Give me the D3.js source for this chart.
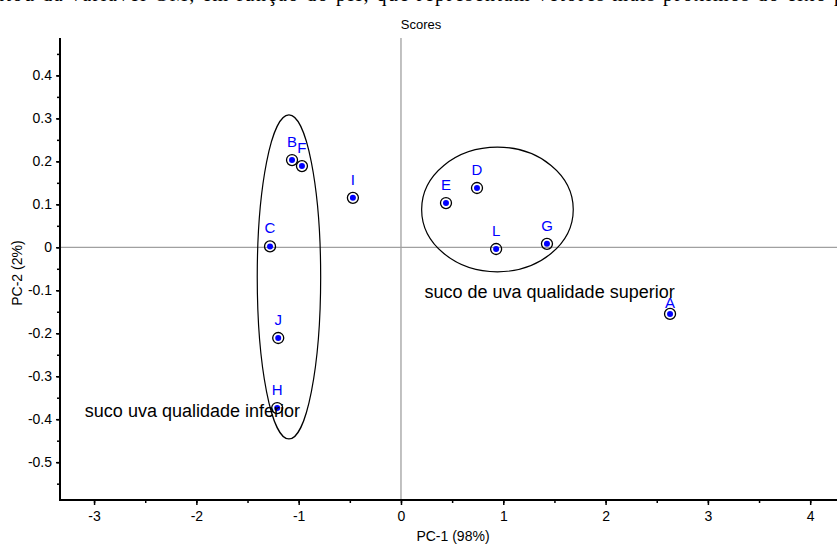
<!DOCTYPE html>
<html>
<head>
<meta charset="utf-8">
<script src="https://cdn.jsdelivr.net/npm/d3@7"></script>
<style>
  html, body { margin: 0; padding: 0; background: #fff; overflow: hidden; }
  svg { display: block; font-family: "Liberation Sans", Arial, sans-serif; }
</style>
</head>
<body>
<script>
// sample scores (PC-1, PC-2)
const labels = ['A', 'B', 'C', 'D', 'E', 'F', 'G', 'H', 'I', 'J', 'L'];
const pc1 = [2.63, -1.065, -1.28, 0.743, 0.44, -0.968, 1.427, -1.21, -0.47, -1.20, 0.93];
const pc2 = [-0.155, 0.203, 0.002, 0.138, 0.103, 0.189, 0.008, -0.374, 0.115, -0.211, -0.004];

// group ellipses: centre and radii in data units
const groupNames = ['inferior', 'superior'];
const groupCx = [-1.095, 0.943];
const groupCy = [-0.069, 0.088];
const groupRx = [0.31, 0.741];
const groupRy = [0.377, 0.145];

const notes = ['suco uva qualidade inferior', 'suco de uva qualidade superior'];
const noteX = [-3.09, 0.23];
const noteY = [-0.396, -0.118];

const xTicks = [-3, -2, -1, 0, 1, 2, 3, 4];
const yTicks = [0.4, 0.3, 0.2, 0.1, 0, -0.1, -0.2, -0.3, -0.4, -0.5];

const W = 837, H = 545;

// plain hyphen for negatives, like the original software
const fmt = d => String(d);

const svg = d3.select('body').append('svg')
    .attr('width', W)
    .attr('height', H);

const x = d3.scaleLinear()
    .domain([-3.333, 4.262])
    .range([60, 837]);
const y = d3.scaleLinear()
    .domain([-0.588, 0.487])
    .range([500, 38]);

// clipped line of the surrounding document text
svg.append('text')
    .attr('x', -6)
    .attr('y', 1)
    .attr('font-family', '"Liberation Serif", "Times New Roman", serif')
    .attr('font-size', 20)
    .attr('textLength', 850)
    .text('ntou da variável GM, em função do pH, que representam vetores mais próximos do eixo p');

svg.append('text')
    .attr('x', 421)
    .attr('y', 29)
    .attr('text-anchor', 'middle')
    .attr('font-size', 13)
    .text('Scores');

// zero lines
svg.append('line')
    .attr('x1', x(0)).attr('x2', x(0))
    .attr('y1', y.range()[1]).attr('y2', y.range()[0])
    .attr('stroke', '#a0a0a0')
    .attr('stroke-width', 1.3);
svg.append('line')
    .attr('x1', x.range()[0]).attr('x2', x.range()[1])
    .attr('y1', y(0)).attr('y2', y(0))
    .attr('stroke', '#a0a0a0')
    .attr('stroke-width', 1.3);

// axes
const xAxis = svg.append('g')
    .attr('transform', `translate(0,${y.range()[0]})`);
xAxis.append('g')
    .call(d3.axisBottom(x).tickValues(d3.range(-3, 4.01, 0.5)).tickSize(3).tickFormat(''))
    .call(g => g.select('.domain').remove());
xAxis.append('g')
    .call(d3.axisBottom(x).tickValues(xTicks).tickSize(5).tickPadding(6).tickFormat(fmt))
    .call(g => g.select('.domain').remove());
xAxis.append('line')
    .attr('x1', x.range()[0] - 1).attr('x2', x.range()[1])
    .attr('stroke', '#000').attr('stroke-width', 2);

const yAxis = svg.append('g')
    .attr('transform', `translate(${x.range()[0]},0)`);
yAxis.append('g')
    .call(d3.axisLeft(y).tickValues(d3.range(-0.55, 0.46, 0.05)).tickSize(3).tickFormat(''))
    .call(g => g.select('.domain').remove());
yAxis.append('g')
    .call(d3.axisLeft(y).tickValues(yTicks).tickSize(4).tickPadding(4).tickFormat(fmt))
    .call(g => g.select('.domain').remove());
yAxis.append('line')
    .attr('y1', y.range()[1]).attr('y2', y.range()[0] + 1)
    .attr('stroke', '#000').attr('stroke-width', 2);

svg.selectAll('.tick line').attr('stroke', '#000').attr('stroke-width', 1.5);
svg.selectAll('.tick text')
    .attr('font-family', '"Liberation Sans", Arial, sans-serif')
    .attr('font-size', 14)
    .attr('fill', '#000');

svg.append('text')
    .attr('x', 453)
    .attr('y', 541)
    .attr('text-anchor', 'middle')
    .attr('font-size', 14)
    .text('PC-1 (98%)');
svg.append('text')
    .attr('transform', `translate(22,${y(-0.06)}) rotate(-90)`)
    .attr('text-anchor', 'middle')
    .attr('font-size', 14)
    .text('PC-2 (2%)');

// group ellipses
svg.append('g').selectAll('ellipse')
    .data(groupNames)
    .join('ellipse')
    .attr('cx', (d, i) => x(groupCx[i]))
    .attr('cy', (d, i) => y(groupCy[i]))
    .attr('rx', (d, i) => x(groupCx[i] + groupRx[i]) - x(groupCx[i]))
    .attr('ry', (d, i) => y(groupCy[i]) - y(groupCy[i] + groupRy[i]))
    .attr('fill', 'none')
    .attr('stroke', '#000')
    .attr('stroke-width', 1.2);

// points
const pts = svg.append('g').selectAll('g')
    .data(labels)
    .join('g')
    .attr('transform', (d, i) => `translate(${x(pc1[i])},${y(pc2[i])})`);
pts.append('circle')
    .attr('r', 5.5)
    .attr('fill', 'none')
    .attr('stroke', '#000')
    .attr('stroke-width', 1.3);
pts.append('circle')
    .attr('r', 3)
    .attr('fill', '#0000ff');
pts.append('text')
    .attr('y', d => d === 'A' ? -6 : -13)
    .attr('text-anchor', 'middle')
    .attr('font-size', 15)
    .attr('fill', '#0000ff')
    .text(d => d);

// group notes
svg.append('g').selectAll('text')
    .data(notes)
    .join('text')
    .attr('x', (d, i) => x(noteX[i]))
    .attr('y', (d, i) => y(noteY[i]))
    .attr('font-size', 18)
    .attr('fill', '#000')
    .text(d => d);
</script>
</body>
</html>
